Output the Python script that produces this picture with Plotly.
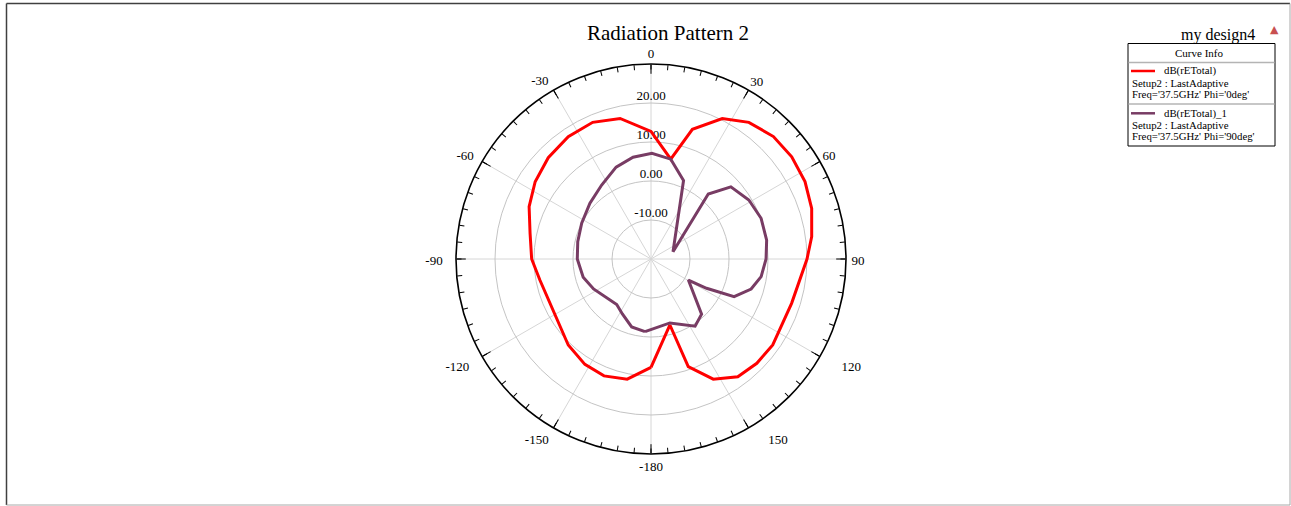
import plotly.graph_objects as go

W, H = 1291, 506

# ---- data (theta in deg, value in dB) ----
red_theta = [-180, -168.8, -158.1, -147.9, -136.1, -100.7, -90, -78, -66.8, -56.3, -45.4, -34.1,
             -23.1, -12.4, 0, 11.2, 17.7, 26.9, 35.6, 45, 54, 63.3, 72.5, 82.1, 90, 107.5,
             125.2, 134.6, 143.6, 152.6, 160.9, 164, 180]
red_db = [7.8, 11.4, 12.3, 11.9, 10.6, 9.0, 10.6, 11.7, 14.0, 15.7, 17.0, 17.85,
          18.1, 16.9, 12.7, 6.1, 14.9, 20.4, 23.1, 24.4, 24.6, 24.2, 23.2, 21.6, 20.0, 17.8,
          18.2, 18.1, 17.5, 14.7, 9.2, -2.4, 7.8]

pur_theta = [-175.3, -164.1, -152.5, -143, -117.5, -105, -90, -76.7, -62.7, -47.6, -33.7,
             -20.8, -10, 0.5, 11.2, 22.5, 71.6, 41.4, 47.9, 58.9, 69.7, 80.7, 90, 99.1,
             106.7, 114.4, 117.8, 119.4, 137.5, 146.7, 163.5, 184.7]
pur_db = [-1.3, -1.9, -4.1, -5.4, -3.4, -2.0, -1.1, -0.7, 0.0, 1.2, 2.8,
          5.2, 6.5, 7.1, 6.1, 1.8, -14.05, 2.2, 7.6, 9.3, 10.1, 10.05, 9.5, 8.6,
          6.8, 3.4, -3.9, -9.0, -0.8, 0.6, -2.9, -1.3]

ring_vals = [20, 10, 0, -10]
ring_labels = ["20.00", "10.00", "0.00", "-10.00"]
ang_vals = list(range(0, 360, 30))
ang_labels = ["0", "30", "60", "90", "120", "150", "-180", "-150", "-120", "-90", "-60", "-30"]
minor_vals = list(range(0, 360, 5))
r_range = [-20, 30]

# label placement (style): where each angular label's centre sits (px from pole, direction in deg)
ang_label_dist = [204, 205.5, 205, 207, 228, 222, 209, 215, 222, 217, 212, 209]
ang_label_dir = [0, 31, 60.2, 90.8, 118.5, 145.1, 180, 212.1, 240.7, 269.2, 298.7, 327.9]
RADIUS_PX = 195
LABEL_RADIUS_PX = 240
CX, CY = 651, 259

series_names = ["dB(rETotal)", "dB(rETotal)_1"]
series_info = [["Setup2 : LastAdaptive", "Freq='37.5GHz' Phi='0deg'"],
               ["Setup2 : LastAdaptive", "Freq='37.5GHz' Phi='90deg'"]]
RED = "#ff0000"
PUR = "#783c64"
FONT = "Liberation Serif"


def px(x):
    return x / W


def py(y):
    return 1 - y / H


unit_px = RADIUS_PX / (r_range[1] - r_range[0])
ang_label_r = [r_range[0] + d / unit_px for d in ang_label_dist]
label_range = [r_range[0], r_range[0] + LABEL_RADIUS_PX / unit_px]

fig = go.Figure()

# radial ring labels
fig.add_trace(go.Scatterpolar(
    r=ring_vals, theta=[0] * len(ring_vals), text=ring_labels, mode="text",
    textposition="top center", textfont=dict(family=FONT, size=13, color="#000"),
    showlegend=False, hoverinfo="skip", subplot="polar"))

fig.add_trace(go.Scatterpolar(
    r=red_db, theta=red_theta, mode="lines", line=dict(color=RED, width=3),
    name=series_names[0], showlegend=False, subplot="polar"))
fig.add_trace(go.Scatterpolar(
    r=pur_db, theta=pur_theta, mode="lines", line=dict(color=PUR, width=3),
    name=series_names[1], showlegend=False, subplot="polar"))

# empty trace to activate minor-tick overlay
fig.add_trace(go.Scatterpolar(r=[None], theta=[None], mode="lines", showlegend=False,
                              hoverinfo="skip", subplot="polar2"))

# angular labels on a larger, invisible polar with the same scale
fig.add_trace(go.Scatterpolar(
    r=ang_label_r, theta=ang_label_dir, text=ang_labels, mode="text",
    textposition="middle center", textfont=dict(family=FONT, size=13, color="#000"),
    showlegend=False, hoverinfo="skip", subplot="polar3"))

dom_x = [px(CX - RADIUS_PX), px(CX + RADIUS_PX)]
dom_y = [py(CY + RADIUS_PX), py(CY - RADIUS_PX)]
dom3_x = [px(CX - LABEL_RADIUS_PX), px(CX + LABEL_RADIUS_PX)]
dom3_y = [py(CY + LABEL_RADIUS_PX), py(CY - LABEL_RADIUS_PX)]

fig.update_layout(
    width=W, height=H,
    margin=dict(l=0, r=0, t=0, b=0),
    paper_bgcolor="white",
    template="none",
    font=dict(family=FONT, color="#111"),
    title=dict(text="Radiation Pattern 2", x=px(668), y=py(33), xref="paper", yref="paper",
               xanchor="center", yanchor="middle", font=dict(family=FONT, size=21, color="#000")),
    polar=dict(
        domain=dict(x=dom_x, y=dom_y),
        bgcolor="white",
        radialaxis=dict(range=r_range, tickvals=[-10, 0, 10, 20], showticklabels=False,
                        ticks="", showline=False, gridcolor="#c4c4c4", gridwidth=1),
        angularaxis=dict(rotation=90, direction="clockwise", tickmode="array",
                         tickvals=ang_vals, ticks="inside", ticklen=9, showticklabels=False,
                         tickwidth=1.2, tickcolor="black", showline=True, linecolor="black",
                         linewidth=1.6, gridcolor="#d6d6d6", gridwidth=1),
    ),
    polar2=dict(
        domain=dict(x=dom_x, y=dom_y),
        bgcolor="rgba(0,0,0,0)",
        radialaxis=dict(range=r_range, visible=False, showgrid=False),
        angularaxis=dict(rotation=90, direction="clockwise", tickmode="array",
                         tickvals=minor_vals, ticks="inside", ticklen=5, tickwidth=1,
                         tickcolor="black", showticklabels=False, showgrid=False,
                         showline=False),
    ),
    polar3=dict(
        domain=dict(x=dom3_x, y=dom3_y),
        bgcolor="rgba(0,0,0,0)",
        radialaxis=dict(range=label_range, visible=False, showgrid=False),
        angularaxis=dict(rotation=90, direction="clockwise", visible=False, showgrid=False,
                         showline=False, ticks=""),
    ),
)

shapes = []
# figure frame
shapes.append(dict(type="line", xref="paper", yref="paper", x0=px(6.5), x1=px(1290), y0=py(3.5), y1=py(3.5),
                   line=dict(color="#404040", width=1.5)))
shapes.append(dict(type="line", xref="paper", yref="paper", x0=px(6.5), x1=px(6.5), y0=py(3.5), y1=py(505),
                   line=dict(color="#404040", width=1.5)))
shapes.append(dict(type="line", xref="paper", yref="paper", x0=px(1290), x1=px(1290), y0=py(3.5), y1=py(505),
                   line=dict(color="#a8a8a8", width=1)))
shapes.append(dict(type="line", xref="paper", yref="paper", x0=px(6.5), x1=px(1290), y0=py(505), y1=py(505),
                   line=dict(color="#a8a8a8", width=1)))
# legend box
shapes.append(dict(type="rect", xref="paper", yref="paper", x0=px(1128), x1=px(1275), y0=py(43.5), y1=py(146),
                   line=dict(color="black", width=1), fillcolor="white"))
for sy in (62.5, 104):
    shapes.append(dict(type="line", xref="paper", yref="paper", x0=px(1128.5), x1=px(1274.5), y0=py(sy), y1=py(sy),
                       line=dict(color="#b4b4b4", width=1.5)))
annotations = [
    dict(text="my design4", x=px(1257), y=py(35), xref="paper", yref="paper", xanchor="right",
         yanchor="middle", showarrow=False, font=dict(family=FONT, size=16, color="#000")),
    dict(text="▲", x=px(1274), y=py(30), xref="paper", yref="paper", xanchor="center",
         yanchor="middle", showarrow=False, font=dict(family="DejaVu Sans", size=11, color="#c85050")),
    dict(text="Curve Info", x=px(1199), y=py(53), xref="paper", yref="paper", xanchor="center",
         yanchor="middle", showarrow=False, font=dict(family=FONT, size=11, color="#000")),
]
colors = [RED, PUR]
base_ys = [71, 113.3]
for i in range(2):
    y0 = base_ys[i]
    shapes.append(dict(type="line", xref="paper", yref="paper", x0=px(1131), x1=px(1155), y0=py(y0), y1=py(y0),
                       line=dict(color=colors[i], width=2.5)))
    annotations.append(dict(text=series_names[i], x=px(1162), y=py(y0), xref="paper", yref="paper",
                            xanchor="left", yanchor="middle", showarrow=False,
                            font=dict(family=FONT, size=10.8, color="#000")))
    for j, line in enumerate(series_info[i]):
        annotations.append(dict(text=line, x=px(1130), y=py(y0 + 11.7 + 11.3 * j), xref="paper", yref="paper",
                                xanchor="left", yanchor="middle", showarrow=False,
                                font=dict(family=FONT, size=10.8, color="#000")))

fig.update_layout(shapes=shapes, annotations=annotations)
fig.write_html("out.html", config={"displayModeBar": False},
               post_script="document.body.style.margin='0';document.body.style.overflow='hidden';")
